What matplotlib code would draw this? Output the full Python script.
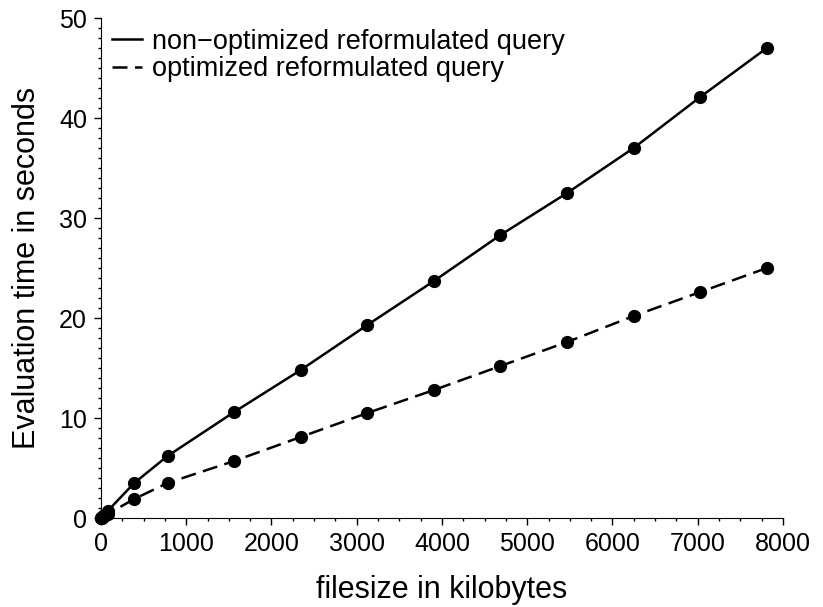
import matplotlib.pyplot as plt
from matplotlib.ticker import MultipleLocator

plt.rcParams['font.family'] = ['Liberation Sans', 'DejaVu Sans']

filesize = [0, 8, 39, 78, 390, 781, 1562, 2343, 3124, 3905, 4686, 5467, 6248, 7029, 7810]
non_opt = [0, 0.1, 0.3, 0.7, 3.5, 6.2, 10.6, 14.8, 19.3, 23.7, 28.3, 32.5, 37.0, 42.1, 47.0]
opt = [0, 0.05, 0.2, 0.4, 1.9, 3.5, 5.7, 8.1, 10.5, 12.8, 15.2, 17.6, 20.2, 22.6, 25.0]

fig = plt.figure(figsize=(8.23, 6.07), dpi=100)
ax = fig.add_axes([0.1227, 0.1466, 0.8287, 0.8237])

ax.plot(filesize, non_opt, '-', color='black', lw=1.8, marker='o', ms=8.5,
        clip_on=False, label='non\u2212optimized reformulated query')
ax.plot(filesize, opt, '--', color='black', lw=1.8, marker='o', ms=8.5,
        dashes=(6, 3), clip_on=False, label='optimized reformulated query')

ax.set_xlim(0, 8000)
ax.set_ylim(0, 50)
ax.xaxis.set_major_locator(MultipleLocator(1000))
ax.xaxis.set_minor_locator(MultipleLocator(250))
ax.yaxis.set_major_locator(MultipleLocator(10))
ax.yaxis.set_minor_locator(MultipleLocator(1))
ax.tick_params(which='major', direction='out', length=5, width=1, labelsize=18, pad=5)
ax.tick_params(which='minor', direction='out', length=2.5, width=1)
ax.spines['top'].set_visible(False)
ax.spines['right'].set_visible(False)

ax.set_xlabel('filesize in kilobytes', fontsize=22, labelpad=14)
ax.set_ylabel('Evaluation time in seconds', fontsize=22, labelpad=12)

leg = ax.legend(loc='upper left', frameon=False, fontsize=19.5, handlelength=1.1,
                handletextpad=0.4, borderaxespad=0.0, labelspacing=0.05,
                bbox_to_anchor=(0.0, 1.0))
for h in leg.legend_handles:
    h.set_marker('')

plt.savefig('out.png', dpi=100)
